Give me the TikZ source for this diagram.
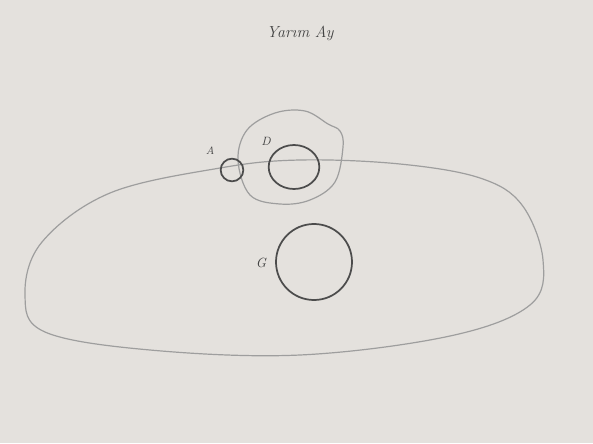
\documentclass[tikz,border=0pt]{standalone}
\usetikzlibrary{shapes.geometric}
\begin{document}
\begin{tikzpicture}[x=0.75pt,y=-0.75pt,
  faint/.style={draw=black!38,line width=0.9pt},
  dark/.style={draw=black!70,line width=1.3pt},
  lbl/.style={text=black!75,font=\itshape\small,inner sep=0pt}]
\fill[color={rgb,255:red,228;green,225;blue,221}] (0,0) rectangle (593,443);
\useasboundingbox (0,0) rectangle (593,443);
\node[lbl,font=\itshape\large] (title) at (300,33) {Yarım Ay};
% big region
\draw[faint] plot[smooth cycle,tension=0.6] coordinates {(25,295) (42,242) (110,193) (220,168) (300,160) (400,164) (480,178) (522,205) (543,260) (530,305) (450,336) (300,355) (150,350) (45,332)};
% D region
\draw[faint] plot[smooth cycle,tension=0.6] coordinates {(238,160) (247,130) (275,113) (305,111) (328,124) (340,131) (343,147) (335,182) (310,200) (280,204) (250,195)};
\node[dark,circle,minimum size=17pt,inner sep=0pt] (A) at (232,170) {};
\node[dark,ellipse,minimum width=38pt,minimum height=33pt,inner sep=0pt] (D) at (294,167) {};
\node[dark,circle,minimum size=57pt,inner sep=0pt] (G) at (314,262) {};
\node[lbl,font=\itshape\footnotesize] (la) at (210,151) {A};
\node[lbl] (ld) at (266,141) {D};
\node[lbl,font=\itshape\normalsize] (lg) at (261,263) {G};
\end{tikzpicture}
\end{document}
